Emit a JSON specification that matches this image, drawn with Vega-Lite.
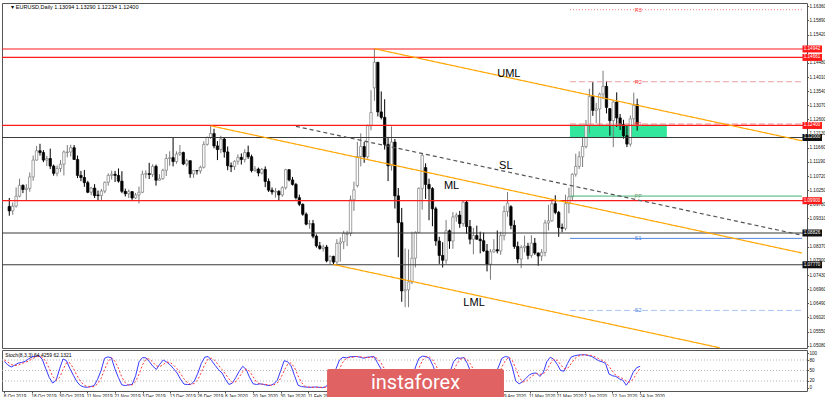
{
"$schema":"https://vega.github.io/schema/vega-lite/v6.json",
"background":"#ffffff",
"padding":{"left":0,"top":2,"right":0,"bottom":0},
"spacing":0,
"config":{"view":{"stroke":"#555555","strokeWidth":1},"font":"Liberation Sans",
"axis":{"grid":false,"domain":false,"labelFont":"Liberation Sans","labelFontSize":4.6,"labelColor":"#111111","tickColor":"#555555","tickSize":1.5,"labelPadding":0.5,"labelOverlap":false,"labelFlush":false}},
"datasets":{
"bars":[
{"i":0,"o":1.0971,"h":1.0999,"l":1.0940,"c":1.0956,"k":76,"s":80},
{"i":1,"o":1.0956,"h":1.0984,"l":1.0943,"c":1.0972,"k":66,"s":74},
{"i":2,"o":1.0972,"h":1.1034,"l":1.0967,"c":1.1005,"k":60,"s":67},
{"i":3,"o":1.1005,"h":1.1063,"l":1.1001,"c":1.1041,"k":65,"s":64},
{"i":4,"o":1.1041,"h":1.1044,"l":1.1015,"c":1.1027,"k":71,"s":65},
{"i":5,"o":1.1027,"h":1.1045,"l":1.0991,"c":1.1031,"k":73,"s":70},
{"i":6,"o":1.1031,"h":1.1084,"l":1.1020,"c":1.1069,"k":76,"s":73},
{"i":7,"o":1.1069,"h":1.1140,"l":1.1056,"c":1.1125,"k":83,"s":77},
{"i":8,"o":1.1125,"h":1.1172,"l":1.1123,"c":1.1156,"k":89,"s":83},
{"i":9,"o":1.1156,"h":1.1179,"l":1.1140,"c":1.1150,"k":91,"s":88},
{"i":10,"o":1.1150,"h":1.1158,"l":1.1118,"c":1.1125,"k":92,"s":91},
{"i":11,"o":1.1125,"h":1.1139,"l":1.1105,"c":1.1130,"k":82,"s":88},
{"i":12,"o":1.1130,"h":1.1163,"l":1.1095,"c":1.1105,"k":55,"s":76},
{"i":13,"o":1.1105,"h":1.1110,"l":1.1073,"c":1.1081,"k":30,"s":56},
{"i":14,"o":1.1081,"h":1.1107,"l":1.1071,"c":1.1097,"k":14,"s":33},
{"i":15,"o":1.1097,"h":1.1125,"l":1.1085,"c":1.1111,"k":22,"s":22},
{"i":16,"o":1.1111,"h":1.1157,"l":1.1074,"c":1.1152,"k":55,"s":30},
{"i":17,"o":1.1150,"h":1.1175,"l":1.1134,"c":1.1152,"k":83,"s":53},
{"i":18,"o":1.1152,"h":1.1176,"l":1.1137,"c":1.1166,"k":78,"s":72},
{"i":19,"o":1.1166,"h":1.1175,"l":1.1126,"c":1.1127,"k":55,"s":72},
{"i":20,"o":1.1127,"h":1.1140,"l":1.1065,"c":1.1074,"k":36,"s":56},
{"i":21,"o":1.1074,"h":1.1089,"l":1.1055,"c":1.1067,"k":18,"s":36},
{"i":22,"o":1.1067,"h":1.1092,"l":1.1036,"c":1.1050,"k":7,"s":20},
{"i":23,"o":1.1050,"h":1.1056,"l":1.1015,"c":1.1018,"k":3,"s":9},
{"i":24,"o":1.1018,"h":1.1036,"l":1.1008,"c":1.1032,"k":2,"s":4},
{"i":25,"o":1.1032,"h":1.1045,"l":1.0999,"c":1.1007,"k":4,"s":3},
{"i":26,"o":1.1009,"h":1.1024,"l":1.0990,"c":1.1007,"k":7,"s":4},
{"i":27,"o":1.1007,"h":1.1029,"l":1.0989,"c":1.1022,"k":25,"s":12},
{"i":28,"o":1.1022,"h":1.1054,"l":1.1015,"c":1.1051,"k":50,"s":27},
{"i":29,"o":1.1051,"h":1.1081,"l":1.1040,"c":1.1074,"k":85,"s":53},
{"i":30,"o":1.1074,"h":1.1090,"l":1.1060,"c":1.1078,"k":89,"s":75},
{"i":31,"o":1.1078,"h":1.1089,"l":1.1052,"c":1.1074,"k":86,"s":87},
{"i":32,"o":1.1074,"h":1.1097,"l":1.1050,"c":1.1055,"k":55,"s":77},
{"i":33,"o":1.1055,"h":1.1088,"l":1.1015,"c":1.1021,"k":30,"s":57},
{"i":34,"o":1.1021,"h":1.1030,"l":1.1004,"c":1.1013,"k":9,"s":31},
{"i":35,"o":1.1013,"h":1.1027,"l":1.0999,"c":1.1020,"k":7,"s":15},
{"i":36,"o":1.1020,"h":1.1022,"l":1.0993,"c":1.0999,"k":9,"s":8},
{"i":37,"o":1.0999,"h":1.1016,"l":1.0996,"c":1.1009,"k":10,"s":9},
{"i":38,"o":1.1009,"h":1.1037,"l":1.0981,"c":1.1018,"k":35,"s":18},
{"i":39,"o":1.1018,"h":1.1090,"l":1.1015,"c":1.1078,"k":75,"s":40},
{"i":40,"o":1.1078,"h":1.1091,"l":1.1064,"c":1.1080,"k":87,"s":66},
{"i":41,"o":1.1080,"h":1.1116,"l":1.1062,"c":1.1077,"k":86,"s":83},
{"i":42,"o":1.1077,"h":1.1111,"l":1.1069,"c":1.1104,"k":75,"s":83},
{"i":43,"o":1.1104,"h":1.1110,"l":1.1040,"c":1.1058,"k":62,"s":74},
{"i":44,"o":1.1058,"h":1.1078,"l":1.1057,"c":1.1063,"k":53,"s":63},
{"i":45,"o":1.1063,"h":1.1096,"l":1.1060,"c":1.1091,"k":68,"s":61},
{"i":46,"o":1.1091,"h":1.1145,"l":1.1072,"c":1.1130,"k":80,"s":67},
{"i":47,"o":1.1130,"h":1.1154,"l":1.1106,"c":1.1133,"k":74,"s":74},
{"i":48,"o":1.1133,"h":1.1200,"l":1.1104,"c":1.1120,"k":66,"s":73},
{"i":49,"o":1.1120,"h":1.1154,"l":1.1113,"c":1.1145,"k":55,"s":65},
{"i":50,"o":1.1145,"h":1.1175,"l":1.1139,"c":1.1150,"k":43,"s":55},
{"i":51,"o":1.1150,"h":1.1153,"l":1.1108,"c":1.1112,"k":25,"s":41},
{"i":52,"o":1.1112,"h":1.1129,"l":1.1104,"c":1.1123,"k":11,"s":26},
{"i":53,"o":1.1123,"h":1.1123,"l":1.1066,"c":1.1079,"k":10,"s":15},
{"i":54,"o":1.1079,"h":1.1091,"l":1.1066,"c":1.1090,"k":10,"s":10},
{"i":55,"o":1.1090,"h":1.1092,"l":1.1077,"c":1.1089,"k":20,"s":13},
{"i":56,"o":1.1089,"h":1.1106,"l":1.1080,"c":1.1101,"k":42,"s":24},
{"i":57,"o":1.1101,"h":1.1187,"l":1.1097,"c":1.1177,"k":70,"s":44},
{"i":58,"o":1.1177,"h":1.1203,"l":1.1173,"c":1.1200,"k":88,"s":67},
{"i":59,"o":1.1200,"h":1.1239,"l":1.1195,"c":1.1213,"k":90,"s":83},
{"i":60,"o":1.1213,"h":1.1229,"l":1.1164,"c":1.1172,"k":78,"s":85},
{"i":61,"o":1.1172,"h":1.1188,"l":1.1125,"c":1.1160,"k":65,"s":78},
{"i":62,"o":1.1160,"h":1.1206,"l":1.1148,"c":1.1195,"k":52,"s":65},
{"i":63,"o":1.1195,"h":1.1200,"l":1.1133,"c":1.1152,"k":43,"s":53},
{"i":64,"o":1.1152,"h":1.1170,"l":1.1091,"c":1.1106,"k":25,"s":40},
{"i":65,"o":1.1106,"h":1.1117,"l":1.1085,"c":1.1103,"k":10,"s":26},
{"i":66,"o":1.1103,"h":1.1124,"l":1.1092,"c":1.1121,"k":14,"s":16},
{"i":67,"o":1.1121,"h":1.1144,"l":1.1110,"c":1.1134,"k":30,"s":18},
{"i":68,"o":1.1134,"h":1.1147,"l":1.1110,"c":1.1127,"k":48,"s":31},
{"i":69,"o":1.1127,"h":1.1161,"l":1.1117,"c":1.1150,"k":62,"s":47},
{"i":70,"o":1.1150,"h":1.1173,"l":1.1129,"c":1.1136,"k":53,"s":54},
{"i":71,"o":1.1136,"h":1.1143,"l":1.1084,"c":1.1090,"k":30,"s":48},
{"i":72,"o":1.1090,"h":1.1105,"l":1.1086,"c":1.1095,"k":12,"s":32},
{"i":73,"o":1.1095,"h":1.1100,"l":1.1071,"c":1.1082,"k":10,"s":17},
{"i":74,"o":1.1082,"h":1.1099,"l":1.1077,"c":1.1094,"k":12,"s":11},
{"i":75,"o":1.1094,"h":1.1104,"l":1.1035,"c":1.1054,"k":10,"s":11},
{"i":76,"o":1.1054,"h":1.1064,"l":1.1019,"c":1.1025,"k":8,"s":10},
{"i":77,"o":1.1025,"h":1.1034,"l":1.1010,"c":1.1019,"k":7,"s":8},
{"i":78,"o":1.1019,"h":1.1032,"l":1.1000,"c":1.1021,"k":12,"s":9},
{"i":79,"o":1.1021,"h":1.1025,"l":1.0992,"c":1.1009,"k":22,"s":14},
{"i":80,"o":1.1009,"h":1.1038,"l":1.1003,"c":1.1033,"k":50,"s":28},
{"i":81,"o":1.1033,"h":1.1096,"l":1.1027,"c":1.1093,"k":78,"s":50},
{"i":82,"o":1.1093,"h":1.1095,"l":1.1054,"c":1.1059,"k":75,"s":68},
{"i":83,"o":1.1059,"h":1.1069,"l":1.1040,"c":1.1044,"k":63,"s":72},
{"i":84,"o":1.1044,"h":1.1049,"l":1.0994,"c":1.1000,"k":35,"s":58},
{"i":85,"o":1.1000,"h":1.1010,"l":1.0972,"c":1.0978,"k":8,"s":35},
{"i":86,"o":1.0978,"h":1.0981,"l":1.0940,"c":1.0945,"k":4,"s":16},
{"i":87,"o":1.0945,"h":1.0951,"l":1.0908,"c":1.0912,"k":3,"s":5},
{"i":88,"o":1.0912,"h":1.0926,"l":1.0897,"c":1.0914,"k":2,"s":3},
{"i":89,"o":1.0914,"h":1.0926,"l":1.0865,"c":1.0872,"k":2,"s":2},
{"i":90,"o":1.0872,"h":1.0878,"l":1.0834,"c":1.0840,"k":3,"s":2},
{"i":91,"o":1.0840,"h":1.0853,"l":1.0827,"c":1.0831,"k":2,"s":2},
{"i":92,"o":1.0831,"h":1.0844,"l":1.0821,"c":1.0836,"k":1,"s":2},
{"i":93,"o":1.0836,"h":1.0843,"l":1.0785,"c":1.0790,"k":3,"s":2},
{"i":94,"o":1.0790,"h":1.0808,"l":1.0778,"c":1.0805,"k":15,"s":6},
{"i":95,"o":1.0805,"h":1.0807,"l":1.0778,"c":1.0786,"k":30,"s":16},
{"i":96,"o":1.0786,"h":1.0862,"l":1.0780,"c":1.0848,"k":55,"s":33},
{"i":97,"o":1.0848,"h":1.0868,"l":1.0787,"c":1.0853,"k":80,"s":55},
{"i":98,"o":1.0853,"h":1.0890,"l":1.0829,"c":1.0881,"k":88,"s":74},
{"i":99,"o":1.0878,"h":1.0890,"l":1.0839,"c":1.0881,"k":86,"s":85},
{"i":100,"o":1.0881,"h":1.1007,"l":1.0872,"c":1.0993,"k":89,"s":88},
{"i":101,"o":1.0993,"h":1.1053,"l":1.0956,"c":1.1026,"k":90,"s":88},
{"i":102,"o":1.1040,"h":1.1185,"l":1.1034,"c":1.1137,"k":90,"s":90},
{"i":103,"o":1.1137,"h":1.1214,"l":1.1104,"c":1.1170,"k":88,"s":89},
{"i":104,"o":1.1170,"h":1.1185,"l":1.1116,"c":1.1136,"k":85,"s":88},
{"i":105,"o":1.1136,"h":1.1243,"l":1.1130,"c":1.1239,"k":88,"s":87},
{"i":106,"o":1.1239,"h":1.1357,"l":1.1224,"c":1.1283,"k":89,"s":87},
{"i":107,"o":1.1365,"h":1.1495,"l":1.1322,"c":1.1450,"k":90,"s":89},
{"i":108,"o":1.1450,"h":1.1451,"l":1.1270,"c":1.1285,"k":72,"s":84},
{"i":109,"o":1.1285,"h":1.1353,"l":1.1260,"c":1.1267,"k":55,"s":72},
{"i":110,"o":1.1267,"h":1.1327,"l":1.1160,"c":1.1177,"k":38,"s":55},
{"i":111,"o":1.1177,"h":1.1202,"l":1.1055,"c":1.1106,"k":22,"s":38},
{"i":112,"o":1.1106,"h":1.1237,"l":1.1090,"c":1.1185,"k":20,"s":27},
{"i":113,"o":1.1185,"h":1.1195,"l":1.0964,"c":1.1006,"k":12,"s":18},
{"i":114,"o":1.1006,"h":1.1032,"l":1.0802,"c":1.0917,"k":8,"s":13},
{"i":115,"o":1.0917,"h":1.0966,"l":1.0654,"c":1.0690,"k":5,"s":8},
{"i":116,"o":1.0690,"h":1.0831,"l":1.0636,"c":1.0694,"k":4,"s":6},
{"i":117,"o":1.0694,"h":1.0828,"l":1.0636,"c":1.0720,"k":8,"s":6},
{"i":118,"o":1.0720,"h":1.0887,"l":1.0713,"c":1.0799,"k":25,"s":12},
{"i":119,"o":1.0799,"h":1.0888,"l":1.0768,"c":1.0885,"k":60,"s":31},
{"i":120,"o":1.0885,"h":1.1034,"l":1.0882,"c":1.1031,"k":85,"s":57},
{"i":121,"o":1.1031,"h":1.1147,"l":1.0960,"c":1.1141,"k":91,"s":79},
{"i":122,"o":1.1100,"h":1.1114,"l":1.0996,"c":1.1044,"k":90,"s":89},
{"i":123,"o":1.1044,"h":1.1063,"l":1.0925,"c":1.1030,"k":85,"s":89},
{"i":124,"o":1.1030,"h":1.1035,"l":1.0905,"c":1.0963,"k":65,"s":80},
{"i":125,"o":1.0963,"h":1.0970,"l":1.0840,"c":1.0856,"k":40,"s":63},
{"i":126,"o":1.0856,"h":1.0870,"l":1.0780,"c":1.0808,"k":20,"s":42},
{"i":127,"o":1.0808,"h":1.0852,"l":1.0768,"c":1.0792,"k":12,"s":24},
{"i":128,"o":1.0792,"h":1.0926,"l":1.0780,"c":1.0890,"k":30,"s":21},
{"i":129,"o":1.0890,"h":1.0894,"l":1.0830,"c":1.0856,"k":45,"s":29},
{"i":130,"o":1.0856,"h":1.0952,"l":1.0830,"c":1.0936,"k":75,"s":50},
{"i":131,"o":1.0936,"h":1.0950,"l":1.0920,"c":1.0942,"k":86,"s":69},
{"i":132,"o":1.0942,"h":1.0956,"l":1.0900,"c":1.0914,"k":85,"s":82},
{"i":133,"o":1.0914,"h":1.0990,"l":1.0904,"c":1.0985,"k":87,"s":86},
{"i":134,"o":1.0985,"h":1.0990,"l":1.0880,"c":1.0904,"k":70,"s":81},
{"i":135,"o":1.0904,"h":1.0926,"l":1.0845,"c":1.0862,"k":45,"s":67},
{"i":136,"o":1.0862,"h":1.0900,"l":1.0812,"c":1.0874,"k":30,"s":48},
{"i":137,"o":1.0874,"h":1.0907,"l":1.0860,"c":1.0862,"k":25,"s":33},
{"i":138,"o":1.0862,"h":1.0887,"l":1.0815,"c":1.0857,"k":22,"s":26},
{"i":139,"o":1.0857,"h":1.0884,"l":1.0820,"c":1.0823,"k":15,"s":21},
{"i":140,"o":1.0823,"h":1.0846,"l":1.0755,"c":1.0779,"k":10,"s":16},
{"i":141,"o":1.0779,"h":1.0829,"l":1.0727,"c":1.0820,"k":15,"s":13},
{"i":142,"o":1.0820,"h":1.0862,"l":1.0817,"c":1.0827,"k":35,"s":20},
{"i":143,"o":1.0827,"h":1.0891,"l":1.0815,"c":1.0823,"k":60,"s":37},
{"i":144,"o":1.0823,"h":1.0887,"l":1.0810,"c":1.0874,"k":85,"s":60},
{"i":145,"o":1.0874,"h":1.0973,"l":1.0858,"c":1.0954,"k":90,"s":78},
{"i":146,"o":1.0954,"h":1.1019,"l":1.0937,"c":1.0982,"k":88,"s":88},
{"i":147,"o":1.0970,"h":1.0975,"l":1.0895,"c":1.0908,"k":60,"s":79},
{"i":148,"o":1.0908,"h":1.0925,"l":1.0830,"c":1.0838,"k":20,"s":56},
{"i":149,"o":1.0838,"h":1.0854,"l":1.0782,"c":1.0796,"k":12,"s":31},
{"i":150,"o":1.0796,"h":1.0842,"l":1.0766,"c":1.0834,"k":18,"s":17},
{"i":151,"o":1.0834,"h":1.0874,"l":1.0818,"c":1.0839,"k":28,"s":19},
{"i":152,"o":1.0839,"h":1.0850,"l":1.0795,"c":1.0808,"k":38,"s":28},
{"i":153,"o":1.0808,"h":1.0875,"l":1.0800,"c":1.0849,"k":42,"s":36},
{"i":154,"o":1.0849,"h":1.0866,"l":1.0810,"c":1.0816,"k":43,"s":41},
{"i":155,"o":1.0816,"h":1.0818,"l":1.0774,"c":1.0806,"k":33,"s":39},
{"i":156,"o":1.0806,"h":1.0829,"l":1.0790,"c":1.0818,"k":45,"s":40},
{"i":157,"o":1.0818,"h":1.0926,"l":1.0805,"c":1.0916,"k":75,"s":51},
{"i":158,"o":1.0916,"h":1.0976,"l":1.0891,"c":1.0923,"k":88,"s":69},
{"i":159,"o":1.0923,"h":1.0995,"l":1.0920,"c":1.0980,"k":82,"s":82},
{"i":160,"o":1.0980,"h":1.1008,"l":1.0945,"c":1.0951,"k":68,"s":79},
{"i":161,"o":1.0951,"h":1.0956,"l":1.0870,"c":1.0901,"k":50,"s":67},
{"i":162,"o":1.0901,"h":1.0914,"l":1.0885,"c":1.0898,"k":48,"s":55},
{"i":163,"o":1.0898,"h":1.1010,"l":1.0891,"c":1.0980,"k":70,"s":56},
{"i":164,"o":1.0980,"h":1.1033,"l":1.0948,"c":1.1003,"k":88,"s":69},
{"i":165,"o":1.1003,"h":1.1081,"l":1.0990,"c":1.1078,"k":92,"s":83},
{"i":166,"o":1.1078,"h":1.1146,"l":1.1070,"c":1.1104,"k":94,"s":91},
{"i":167,"o":1.1104,"h":1.1154,"l":1.1095,"c":1.1136,"k":95,"s":94},
{"i":168,"o":1.1136,"h":1.1198,"l":1.1102,"c":1.1170,"k":95,"s":95},
{"i":169,"o":1.1170,"h":1.1258,"l":1.1164,"c":1.1240,"k":93,"s":94},
{"i":170,"o":1.1240,"h":1.1362,"l":1.1213,"c":1.1336,"k":90,"s":93},
{"i":171,"o":1.1336,"h":1.1384,"l":1.1272,"c":1.1290,"k":84,"s":89},
{"i":172,"o":1.1290,"h":1.1315,"l":1.1247,"c":1.1295,"k":78,"s":84},
{"i":173,"o":1.1295,"h":1.1349,"l":1.1241,"c":1.1344,"k":75,"s":79},
{"i":174,"o":1.1344,"h":1.1422,"l":1.1328,"c":1.1370,"k":70,"s":74},
{"i":175,"o":1.1370,"h":1.1388,"l":1.1280,"c":1.1300,"k":40,"s":62},
{"i":176,"o":1.1296,"h":1.1298,"l":1.1206,"c":1.1256,"k":35,"s":48},
{"i":177,"o":1.1256,"h":1.1321,"l":1.1168,"c":1.1318,"k":33,"s":36},
{"i":178,"o":1.1318,"h":1.1350,"l":1.1235,"c":1.1265,"k":26,"s":31},
{"i":179,"o":1.1265,"h":1.1278,"l":1.1225,"c":1.1243,"k":22,"s":27},
{"i":180,"o":1.1243,"h":1.1259,"l":1.1196,"c":1.1206,"k":8,"s":19},
{"i":181,"o":1.1206,"h":1.1241,"l":1.1168,"c":1.1178,"k":22,"s":17},
{"i":182,"o":1.1178,"h":1.1273,"l":1.1170,"c":1.1262,"k":45,"s":25},
{"i":183,"o":1.1262,"h":1.1349,"l":1.1242,"c":1.1307,"k":58,"s":42},
{"i":184,"o":1.1309,"h":1.1329,"l":1.1223,"c":1.1240,"k":62,"s":56}
],
"levels":[
{"price":1.14942,"type":"key"},{"price":1.14661,"type":"key"},{"price":1.124,"type":"key"},
{"price":1.12,"type":"round"},{"price":1.099,"type":"key"},{"price":1.08826,"type":"round"},{"price":1.0777,"type":"round"}],
"pivots":[
{"name":"R3","price":1.16247},{"name":"R2","price":1.13853},{"name":"R1","price":1.12447},
{"name":"PP","price":1.10053},{"name":"S1","price":1.08647},{"name":"S2","price":1.06253}],
"zone":[{"i1":164.3,"i2":192.7,"p1":1.1199,"p2":1.1242}],
"trend":[
{"name":"UML","i1":107,"p1":1.1495,"i2":232.3,"p2":1.11892,"li":146.4,"lp":1.1411},
{"name":"ML","i1":59,"p1":1.1239,"i2":232.3,"p2":1.08161,"li":129.6,"lp":1.10387},
{"name":"LML","i1":95,"p1":1.0778,"i2":208.3,"p2":1.05009,"li":136.2,"lp":1.06499},
{"name":"SL","i1":84,"p1":1.1237,"i2":232.3,"p2":1.08751,"li":145.5,"lp":1.11052}]
},
"vconcat":[
{
"width":805,"height":345,
"resolve":{"scale":{"color":"independent","strokeDash":"independent"}},
"layer":[
{"data":{"name":"zone"},"mark":{"type":"rect","color":"#33e89c"},
"encoding":{
"x":{"field":"i1","type":"quantitative","scale":{"domain":[-0.67,232.3],"nice":false,"zero":false},"axis":null},
"x2":{"field":"i2"},
"y":{"field":"p1","type":"quantitative","scale":{"domain":[1.05004,1.1647],"nice":false,"zero":false},
"axis":{"orient":"right","title":null,"format":".5f","labelOverlap":false,"tickCount":40,"labelFontSize":4.6,"labelPadding":0.5,"tickSize":1.5,"values":[1.0508,1.0555,1.0602,1.0649,1.0696,1.0743,1.079,1.0837,1.0931,1.0978,1.1025,1.1072,1.1119,1.1166,1.1213,1.126,1.1307,1.1354,1.1401,1.1448,1.1542,1.1589,1.1636]}},
"y2":{"field":"p2"}}},
{"data":{"name":"bars"},"mark":{"type":"rule","strokeWidth":1},
"encoding":{"x":{"field":"i","type":"quantitative","axis":null},"y":{"field":"l","type":"quantitative","title":null},"y2":{"field":"h"},
"color":{"condition":{"test":"datum.c >= datum.o","value":"#7a7a7a"},"value":"#000000"}}},
{"data":{"name":"bars"},"mark":{"type":"bar","width":2.4,"strokeWidth":0.7},
"encoding":{"x":{"field":"i","type":"quantitative","axis":null},"y":{"field":"o","type":"quantitative","title":null},"y2":{"field":"c"},
"fill":{"condition":{"test":"datum.c >= datum.o","value":"#ffffff"},"value":"#000000"},
"stroke":{"condition":{"test":"datum.c >= datum.o","value":"#7a7a7a"},"value":"#000000"}}},
{"data":{"name":"levels"},"mark":{"type":"rule","strokeWidth":1.2},
"encoding":{"y":{"field":"price","type":"quantitative","title":null},
"color":{"field":"type","type":"nominal","scale":{"domain":["key","round"],"range":["#ff1a1a","#3a3a3a"]},"legend":null}}},
{"data":{"name":"pivots"},"mark":{"type":"rule","strokeWidth":1},
"encoding":{"x":{"datum":164.3,"type":"quantitative","axis":null},"x2":{"datum":232.3},
"y":{"field":"price","type":"quantitative","title":null},
"color":{"field":"name","type":"nominal","scale":{"domain":["R3","R2","R1","PP","S1","S2"],"range":["#f08080","#e8a0a0","#f08080","#3cb371","#4a7fe0","#a8c4f0"]},"legend":null},
"strokeDash":{"field":"name","type":"nominal","scale":{"domain":["R3","R2","R1","PP","S1","S2"],"range":[[1,2],[6,3],[6,3],[1,0],[1,0],[6,3]]},"legend":null}}},
{"data":{"name":"trend"},"mark":{"type":"rule","strokeWidth":1.2},
"encoding":{"x":{"field":"i1","type":"quantitative","axis":null},"x2":{"field":"i2"},
"y":{"field":"p1","type":"quantitative","title":null},"y2":{"field":"p2"},
"color":{"field":"name","type":"nominal","scale":{"domain":["UML","ML","LML","SL"],"range":["#ffa500","#ffa500","#ffa500","#555555"]},"legend":null},
"strokeDash":{"field":"name","type":"nominal","scale":{"domain":["UML","ML","LML","SL"],"range":[[1,0],[1,0],[1,0],[4,3]]},"legend":null}}},
{"data":{"name":"trend"},"mark":{"type":"text","fontSize":11,"font":"Liberation Sans","color":"#000000","align":"center","baseline":"middle"},
"encoding":{"x":{"field":"li","type":"quantitative","axis":null},"y":{"field":"lp","type":"quantitative","title":null},"text":{"field":"name"}}},
{"data":{"name":"pivots"},"mark":{"type":"text","fontSize":5.5,"align":"center","baseline":"middle"},
"encoding":{"x":{"datum":184.3,"type":"quantitative","axis":null},"y":{"field":"price","type":"quantitative","title":null},"text":{"field":"name"},
"color":{"field":"name","type":"nominal","scale":{"domain":["R3","R2","R1","PP","S1","S2"],"range":["#ff4040","#ff4040","#ff4040","#70a070","#4a7fe0","#4a7fe0"]},"legend":null}}},
{"data":{"name":"levels"},"mark":{"type":"tick","orient":"horizontal","size":19.5,"thickness":7,"opacity":1},
"encoding":{"x":{"datum":235.3,"type":"quantitative","axis":null},"y":{"field":"price","type":"quantitative","title":null},
"color":{"field":"type","type":"nominal","scale":{"domain":["key","round"],"range":["#ff1a1a","#111111"]},"legend":null}}},
{"data":{"name":"levels"},"mark":{"type":"text","fontSize":4.6,"align":"left","baseline":"middle","color":"#ffffff"},
"encoding":{"x":{"datum":232.8,"type":"quantitative","axis":null},"y":{"field":"price","type":"quantitative","title":null},"text":{"field":"price","type":"quantitative","format":".5f"}}},
{"data":{"values":[{}]},"mark":{"type":"text","fontSize":5.5,"align":"left","baseline":"middle","color":"#000000"},
"encoding":{"x":{"datum":0.6,"type":"quantitative","axis":null},"y":{"datum":1.16345,"type":"quantitative","title":null},"text":{"value":"▾ EURUSD,Daily  1.13094 1.13290 1.12234 1.12400"}}}
]
},
{
"width":805,"height":41,
"layer":[
{"data":{"values":[{"lv":20},{"lv":50},{"lv":80}]},"mark":{"type":"rule","color":"#b4b4b4","strokeDash":[1,2],"strokeWidth":1},
"encoding":{"y":{"field":"lv","type":"quantitative","scale":{"domain":[-8.6,108.6],"nice":false,"zero":false},
"axis":{"orient":"right","title":null,"labelOverlap":false,"tickCount":20,"labelFontSize":4.6,"values":[0,20,50,80,100]}}}},
{"data":{"name":"bars"},"mark":{"type":"line","color":"#3a3aff","strokeWidth":1},
"encoding":{"x":{"field":"i","type":"quantitative","scale":{"domain":[-0.67,232.3],"nice":false,"zero":false},
"axis":{"orient":"bottom","title":null,"labelOverlap":false,"tickCount":40,"values":[0,8,16,24,32,40,48,56,64,72,80,88,144,152,160,168,176,184],
"labelExpr":"['8 Oct 2019','18 Oct 2019','30 Oct 2019','11 Nov 2019','21 Nov 2019','3 Dec 2019','13 Dec 2019','26 Dec 2019','8 Jan 2020','20 Jan 2020','30 Jan 2020','11 Feb 2020','21 Feb 2020','4 Mar 2020','16 Mar 2020','26 Mar 2020','7 Apr 2020','17 Apr 2020','29 Apr 2020','11 May 2020','21 May 2020','2 Jun 2020','12 Jun 2020','24 Jun 2020'][round(datum.value/8)]",
"labelAlign":"left","labelBaseline":"top","labelPadding":0,"tickSize":2,"labelOffset":-1,"labelFontSize":4.6}},
"y":{"field":"k","type":"quantitative","title":null}}},
{"data":{"name":"bars"},"mark":{"type":"line","color":"#ff3a3a","strokeWidth":1,"strokeDash":[2,2]},
"encoding":{"x":{"field":"i","type":"quantitative","title":null},"y":{"field":"s","type":"quantitative","title":null}}},
{"data":{"values":[{}]},"mark":{"type":"text","fontSize":5,"align":"left","baseline":"middle","color":"#000000"},
"encoding":{"x":{"datum":0.3,"type":"quantitative","title":null},"y":{"datum":95,"type":"quantitative","title":null},"text":{"value":"Stoch(8,3,3) 64.4259 62.1321"}}},
{"data":{"values":[{}]},"mark":{"type":"rect","color":"#e06262","cornerRadius":2},
"encoding":{"x":{"datum":93.4,"type":"quantitative","title":null},"x2":{"datum":144.6},"y":{"datum":54,"type":"quantitative","title":null},"y2":{"datum":-37}}},
{"data":{"values":[{}]},"mark":{"type":"text","fontSize":20,"font":"Roboto","align":"center","baseline":"middle","color":"#ffffff"},
"encoding":{"x":{"datum":119,"type":"quantitative","title":null},"y":{"datum":13,"type":"quantitative","title":null},"text":{"value":"instaforex"}}}
]
}
]
}
